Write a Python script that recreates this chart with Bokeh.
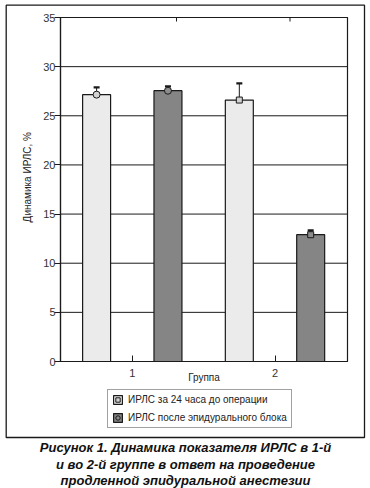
import math
from bokeh.plotting import figure
from bokeh.models import (ColumnDataSource, FixedTicker, Whisker, TeeHead, Legend, LegendItem,
                          Label, Range1d)
from bokeh.embed import file_html
from bokeh.resources import INLINE

# ---- data ----
groups = [1, 2]
group_labels = ["1", "2"]
series_names = ["ИРЛС за 24 часа до операции", "ИРЛС после эпидурального блока"]
before_mean = [27.15, 26.6]
before_upper = [27.9, 28.3]
before_lower = [26.6, 26.4]
after_mean = [27.55, 12.9]
after_upper = [28.0, 13.35]
after_lower = [26.8, 12.1]
group_markers = ["circle", "square"]
legend_marker_group = [1, 0]      # which group's marker each series shows in the legend
y_ticks = [0, 5, 10, 15, 20, 25, 30, 35]
top_ticks = [1.31, 2.105]
y_label = "Динамика ИРЛС, %"
x_label = "Группа"
caption = ["Рисунок 1. Динамика показателя ИРЛС в 1-й",
           "и во 2-й группе в ответ на проведение",
           "продленной эпидуральной анестезии"]

# ---- layout (page pixels) ----
W, H = 370, 488
PX_L, PX_R, PX_T, PX_B = 60, 347, 17, 361      # plot area
X_MIN, X_MAX, Y_MIN, Y_MAX = 0.497, 2.508, 0, 35
KX = (PX_R - PX_L) / (X_MAX - X_MIN)
KY = (PX_B - PX_T) / (Y_MAX - Y_MIN)


def dx(px):
    return X_MIN + (px - PX_L) / KX


def dy(py):
    return Y_MIN + (PX_B - py) / KY


FONT = "Liberation Sans"
INK = "#1a1a1a"
LIGHT = "#ebebeb"
DARK = "#858585"

p = figure(width=W, height=H, output_backend="svg", toolbar_location=None,
           x_range=Range1d(dx(0), dx(W)), y_range=Range1d(dy(H), dy(0)),
           min_border=0)
p.background_fill_color = "white"
p.border_fill_color = "white"
p.outline_line_color = None
p.xgrid.visible = False
p.ygrid.visible = False

# outer frame
p.quad(left=dx(5.7), right=dx(364), top=dy(4.7), bottom=dy(437),
       fill_color=None, line_color=INK, line_width=1.3)

# horizontal grid lines at y ticks and plot-area border
p.segment(x0=[X_MIN] * len(y_ticks), x1=[X_MAX] * len(y_ticks), y0=y_ticks, y1=y_ticks,
          line_color=INK, line_width=1)
p.quad(left=X_MIN, right=X_MAX, bottom=Y_MIN, top=Y_MAX, fill_color=None,
       line_color=INK, line_width=1.2)
p.segment(x0=top_ticks, x1=top_ticks, y0=[Y_MAX] * len(top_ticks),
          y1=[Y_MAX - 4 / KY] * len(top_ticks), line_color=INK, line_width=1)

offsets = [-0.25, 0.25]
series = [(before_mean, before_upper, before_lower, LIGHT, "#d2d2d2"),
          (after_mean, after_upper, after_lower, DARK, "#8c8c8c")]
bar_renderers = []
legend_marker_renderers = []
for i, ((mean, up, lo, col, mcol), off) in enumerate(zip(series, offsets)):
    xs = [g + off for g in groups]
    src = ColumnDataSource(dict(x=xs, top=mean, upper=up, lower=lo))
    br = p.vbar(x="x", top="top", width=0.196, source=src, fill_color=col,
                line_color=INK, line_width=1.2)
    bar_renderers.append(br)
    w = Whisker(base="x", upper="upper", lower="lower", source=src,
                line_color=INK, line_width=1,
                upper_head=TeeHead(size=6, line_width=2.2, line_color=INK),
                lower_head=TeeHead(size=6, line_width=2.2, line_color=INK))
    p.add_layout(w)
    # one mean-marker renderer per point (marker shape differs by group)
    per_point = []
    for j, m in enumerate(group_markers):
        r = p.scatter(x=[xs[j]], y=[mean[j]], marker=m, size=7 if m == "circle" else 6,
                      fill_color=mcol, line_color=INK, line_width=1)
        per_point.append(r)
    legend_marker_renderers.append(per_point[legend_marker_group[i]])

# ---- axes pinned to the plot area ----
xa = p.xaxis[0]
xa.fixed_location = Y_MIN
xa.bounds = (X_MIN, X_MAX)
xa.ticker = FixedTicker(ticks=groups)
xa.major_label_overrides = {g: l for g, l in zip(groups, group_labels)}
xa.major_tick_in = 6
xa.major_tick_out = 0
xa.minor_tick_line_color = None
xa.major_label_standoff = 7
xa.axis_label = x_label
xa.axis_label_standoff = -8
xa.axis_label_text_font = FONT
xa.axis_label_text_font_style = "normal"
xa.axis_label_text_font_size = "10px"
xa.axis_label_text_color = "#222222"

ya = p.yaxis[0]
ya.fixed_location = X_MIN
ya.bounds = (Y_MIN, Y_MAX)
ya.ticker = FixedTicker(ticks=y_ticks)
ya.major_tick_in = 0
ya.major_tick_out = 6
ya.minor_tick_line_color = None
ya.major_label_standoff = -1

for ax in (xa, ya):
    ax.axis_line_color = INK
    ax.axis_line_width = 1.2
    ax.major_tick_line_color = INK
    ax.major_label_text_font = FONT
    ax.major_label_text_font_size = "11px"
    ax.major_label_text_color = "#333333"

# y label
p.add_layout(Label(x=dx(26.5), y=dy(176.7), text=y_label, angle=math.pi / 2,
                   text_align="center", text_baseline="middle",
                   text_font=FONT, text_font_size="10px", text_color="#222222"))

# legend
items = [LegendItem(label=series_names[i], renderers=[bar_renderers[i], legend_marker_renderers[i]])
         for i in range(len(series_names))]
legend = Legend(items=items, location=(107, H - 428), orientation="vertical",
                glyph_width=11, glyph_height=11, label_height=11, label_standoff=5,
                spacing=7, padding=4, margin=0,
                label_text_font=FONT, label_text_font_size="10px", label_text_color="#222222",
                border_line_color="#444444", border_line_width=1,
                background_fill_color="white", background_fill_alpha=1)
p.add_layout(legend, "center")

# caption
for txt, py in zip(caption, [447, 463.5, 479.5]):
    p.add_layout(Label(x=dx(185), y=dy(py), text=txt, text_align="center", text_baseline="middle",
                       text_font=FONT, text_font_style="bold italic",
                       text_font_size="13px", text_color="#111111"))

open("out.html", "w").write(file_html(p, INLINE))
